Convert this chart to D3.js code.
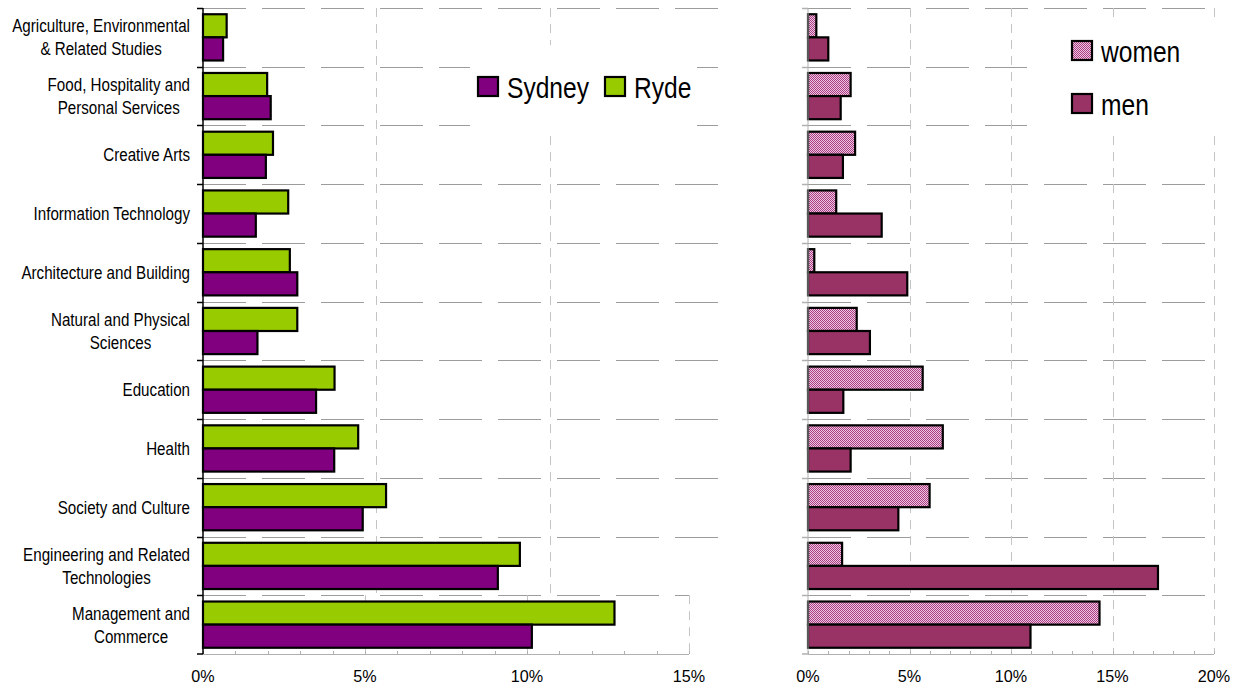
<!DOCTYPE html>
<html>
<head>
<meta charset="utf-8">
<script src="https://cdn.jsdelivr.net/npm/d3@7"></script>
<style>
  body { margin: 0; background: #fff; }
  text { font-family: "Liberation Sans", Arial, sans-serif; fill: #000; }
</style>
</head>
<body>
<svg id="viz" width="1240" height="685"></svg>
<script>
// categories, top of the chart first
var categories = [
    "Agriculture, Environmental|& Related Studies",
    "Food, Hospitality and|Personal Services",
    "Creative Arts",
    "Information Technology",
    "Architecture and Building",
    "Natural and Physical|Sciences",
    "Education",
    "Health",
    "Society and Culture",
    "Engineering and Related|Technologies",
    "Management and|Commerce"
];

// percent of residents per field
var sydney = [0.62, 2.09, 1.94, 1.63, 2.91, 1.68, 3.49, 4.05, 4.93, 9.10, 10.15];
var ryde   = [0.73, 1.98, 2.16, 2.63, 2.68, 2.91, 4.06, 4.79, 5.65, 9.78, 12.70];

// Ryde split by sex
var women = [0.41, 2.10, 2.32, 1.39, 0.31, 2.40, 5.65, 6.64, 5.99, 1.68, 14.36];
var men   = [1.00, 1.61, 1.72, 3.63, 4.89, 3.05, 1.74, 2.10, 4.45, 17.24, 10.96];

var leftTicks = [0, 5, 10, 15];
var rightTicks = [0, 5, 10, 15, 20];

var NARROW = 0.82; // no Arial Narrow installed, squeeze Liberation Sans

var svg = d3.select("#viz");
var top_y = 8, bottom_y = 654;

var y = d3.scaleBand()
    .domain(categories)
    .range([top_y, bottom_y])
    .padding(0);

var inner = d3.scaleBand()
    .domain(["a", "b"])
    .range([0, y.bandwidth()])
    .paddingInner(0)
    .paddingOuter(0.27);

var xl = d3.scaleLinear().domain([0, 15]).range([203, 689]);
var xr = d3.scaleLinear().domain([0, 20]).range([808, 1214]);
// the left grid is drawn a bit wider than the axis in the original
var xg = d3.scaleLinear().domain([0, 15]).range([203, 723]);

function ntext(g, x, yy, str, size, anchor, squeeze) {
    return g.append("text")
        .attr("transform", `translate(${x},${yy}) scale(${squeeze || NARROW},1)`)
        .attr("text-anchor", anchor || "start")
        .style("font-size", size + "px")
        .text(str);
}

// checker pattern for women
var defs = svg.append("defs");
var pat = defs.append("pattern")
    .attr("id", "checker")
    .attr("width", 2)
    .attr("height", 2)
    .attr("patternUnits", "userSpaceOnUse");
pat.append("rect").attr("width", 2).attr("height", 2).attr("fill", "#efc4e4");
pat.append("rect").attr("width", 1).attr("height", 1).attr("fill", "#a8407f");
pat.append("rect").attr("x", 1).attr("y", 1).attr("width", 1).attr("height", 1).attr("fill", "#a8407f");

var last = categories[categories.length - 1];

function hgrid(x1, x2, cats) {
    svg.append("g").selectAll("line")
        .data(cats)
        .enter().append("line")
        .attr("x1", x1)
        .attr("x2", x2)
        .attr("y1", d => Math.round(y(d)) + 0.5)
        .attr("y2", d => Math.round(y(d)) + 0.5)
        .attr("stroke", "#9c9c9c")
        .attr("stroke-dasharray", "43,16");
}

function vgrid(x, ticks, y1, y2) {
    svg.append("g").selectAll("line")
        .data(ticks)
        .enter().append("line")
        .attr("x1", d => Math.round(x(d)) + 0.5)
        .attr("x2", d => Math.round(x(d)) + 0.5)
        .attr("y1", y1)
        .attr("y2", y2)
        .attr("stroke", "#c4c4c4")
        .attr("stroke-dasharray", "9,7");
}

// left chart grid
hgrid(203, 723, categories.slice(0, -1));
hgrid(203, 689, [last]);
vgrid(xg, [5, 10], top_y, y(last));
vgrid(xl, [5, 10, 15], y(last), bottom_y);

// right chart grid
hgrid(808, 1214, categories);
vgrid(xr, rightTicks.slice(1), top_y, bottom_y);

// legend backgrounds hide the grid behind them
svg.append("rect").attr("x", 470).attr("y", 45).attr("width", 227).attr("height", 90).attr("fill", "#fff");
svg.append("rect").attr("x", 1027).attr("y", 17).attr("width", 200).attr("height", 113).attr("fill", "#fff");

function bars(x, data, key, fill) {
    svg.append("g")
        .selectAll("rect")
        .data(data)
        .enter().append("rect")
        .attr("x", x(0))
        .attr("y", (d, i) => y(categories[i]) + inner(key))
        .attr("width", d => x(d) - x(0))
        .attr("height", inner.bandwidth())
        .attr("fill", fill)
        .attr("stroke", "#000")
        .attr("stroke-width", 2.2);
}

bars(xl, ryde, "a", "#99cc00");
bars(xl, sydney, "b", "#800080");
bars(xr, women, "a", "url(#checker)");
bars(xr, men, "b", "#993366");

function xAxis(x, ticks) {
    var g = svg.append("g").attr("transform", `translate(0,${bottom_y})`);
    g.append("line")
        .attr("x1", x.range()[0]).attr("x2", x.range()[1])
        .attr("y1", 0.5).attr("y2", 0.5)
        .attr("stroke", "#b0b0b0");
    g.selectAll("line.minor")
        .data(d3.range(x.domain()[0], x.domain()[1] + 1))
        .enter().append("line")
        .attr("class", "minor")
        .attr("x1", d => Math.round(x(d)) + 0.5)
        .attr("x2", d => Math.round(x(d)) + 0.5)
        .attr("y1", -3).attr("y2", 0)
        .attr("stroke", "#b0b0b0");
    ticks.forEach(function(t) {
        ntext(g, x(t), 28, t + "%", 17, "middle", 0.95);
    });
}

xAxis(xl, leftTicks);
xAxis(xr, rightTicks);

function yAxis(x0, color) {
    var g = svg.append("g");
    g.append("line")
        .attr("x1", x0).attr("x2", x0)
        .attr("y1", top_y).attr("y2", bottom_y)
        .attr("stroke", color)
        .attr("stroke-width", color == "#000" ? 1.5 : 1);
    g.selectAll("line.t")
        .data(categories.concat([null]))
        .enter().append("line")
        .attr("class", "t")
        .attr("x1", x0 - 6).attr("x2", x0)
        .attr("y1", d => d == null ? bottom_y : Math.round(y(d)) + 0.5)
        .attr("y2", d => d == null ? bottom_y : Math.round(y(d)) + 0.5)
        .attr("stroke", color)
        .attr("stroke-width", 1.5);
}

yAxis(203, "#000");
yAxis(808, "#b0b0b0");

// category labels, lines centred on each other, block right aligned at x=190
var labels = svg.append("g");
categories.forEach(function(c) {
    var lines = c.split("|");
    var cy = y(c) + y.bandwidth() / 2;
    var ts = lines.map(function(l, i) {
        return ntext(labels, 0, cy + 6.5 + (i - (lines.length - 1) / 2) * 23, l, 18.5, "middle");
    });
    var w = d3.max(ts, t => t.node().getComputedTextLength()) * NARROW;
    ts.forEach(function(t, i) {
        t.attr("transform", `translate(${190 - w / 2},${cy + 6.5 + (i - (lines.length - 1) / 2) * 23}) scale(${NARROW},1)`);
    });
});

// legends
function legend(items) {
    items.forEach(function(it) {
        svg.append("rect")
            .attr("x", it.x).attr("y", it.y)
            .attr("width", 20).attr("height", 19)
            .attr("fill", it.fill)
            .attr("stroke", "#000")
            .attr("stroke-width", 2.2);
        ntext(svg, it.x + 29, it.y + 20.5, it.name, 30);
    });
}

legend([
    {name: "Sydney", fill: "#800080", x: 478, y: 77},
    {name: "Ryde", fill: "#99cc00", x: 605, y: 77}
]);
legend([
    {name: "women", fill: "url(#checker)", x: 1072, y: 41},
    {name: "men", fill: "#993366", x: 1072, y: 94}
]);
</script>
</body>
</html>
